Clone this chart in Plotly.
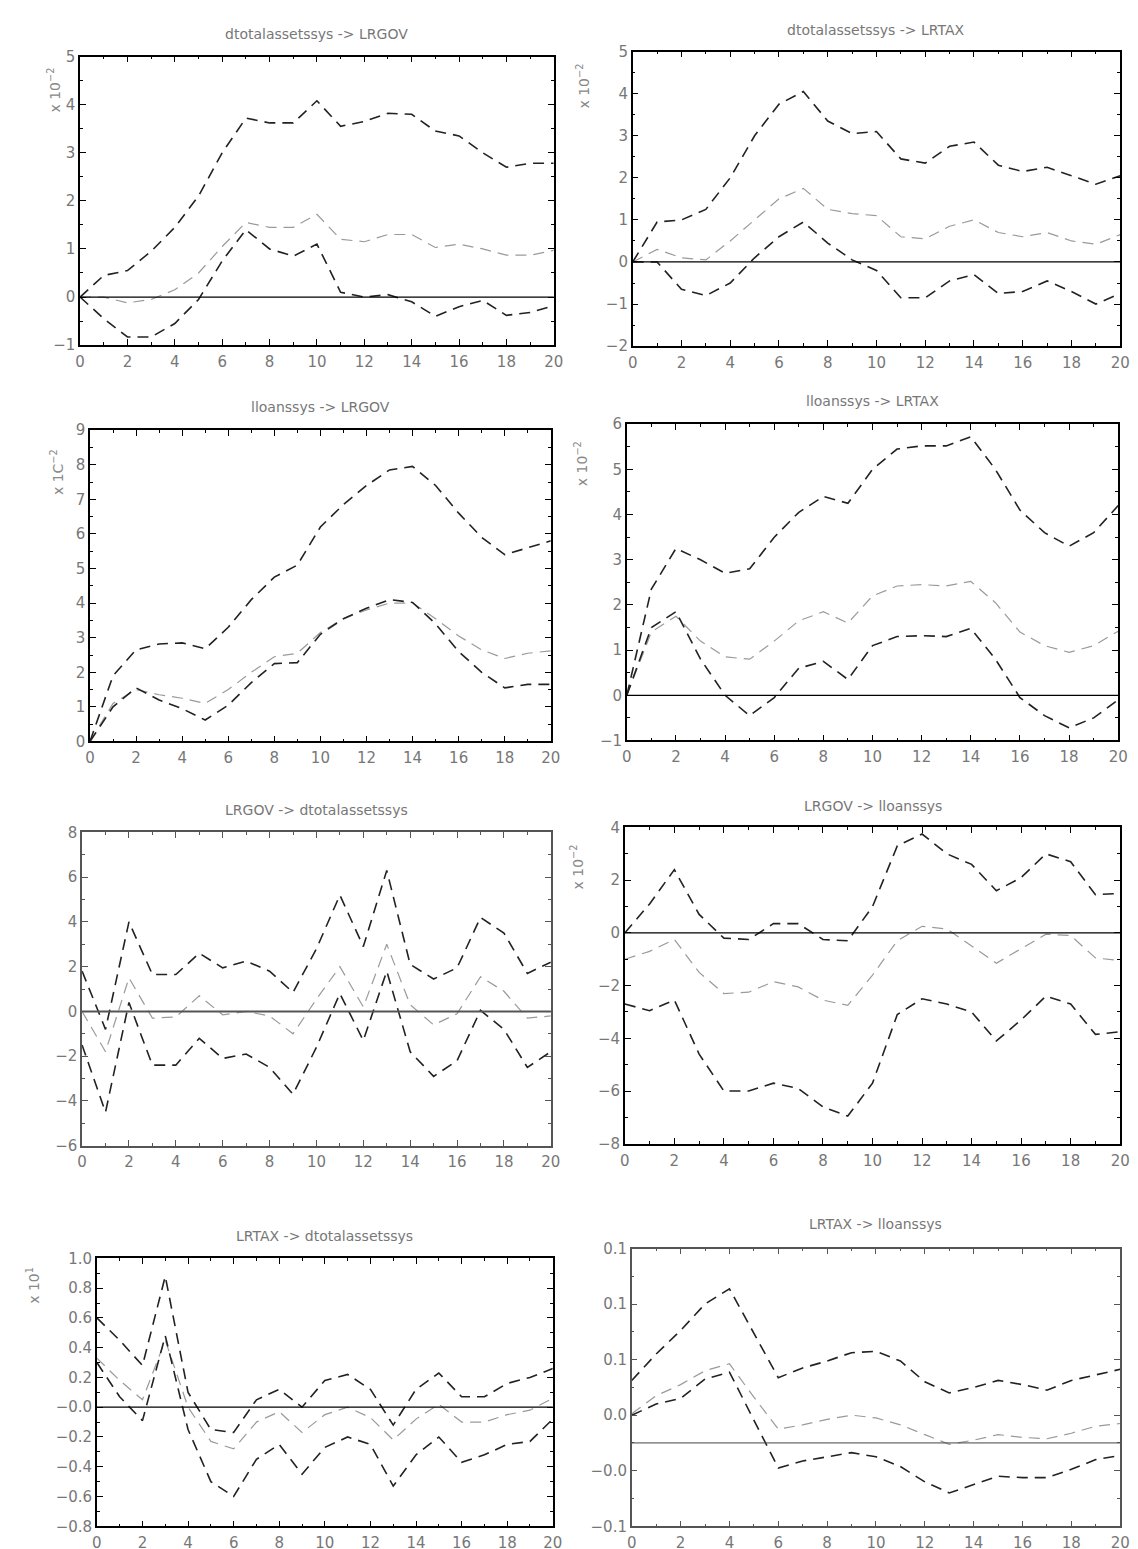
import plotly.graph_objects as go

W, H = 1138, 1549

horizon = list(range(21))

# dtotalassetssys -> LRGOV  (x 10^-2)
dta_gov_hi = [0.0, 0.45, 0.55, 0.95, 1.45, 2.1, 3.0, 3.72, 3.62, 3.62, 4.08, 3.55, 3.65, 3.82, 3.8, 3.45, 3.35, 3.0, 2.7, 2.78, 2.78]
dta_gov_mid = [0.0, 0.0, -0.12, -0.05, 0.15, 0.5, 1.05, 1.55, 1.45, 1.45, 1.72, 1.2, 1.15, 1.3, 1.3, 1.03, 1.1, 1.0, 0.87, 0.87, 0.97]
dta_gov_lo = [0.0, -0.45, -0.83, -0.83, -0.55, -0.05, 0.75, 1.4, 1.0, 0.85, 1.1, 0.1, 0.0, 0.05, -0.1, -0.4, -0.2, -0.07, -0.38, -0.32, -0.18]

# dtotalassetssys -> LRTAX  (x 10^-2)
dta_tax_hi = [0.0, 0.95, 1.0, 1.25, 2.0, 3.0, 3.75, 4.05, 3.35, 3.05, 3.1, 2.45, 2.35, 2.75, 2.85, 2.3, 2.15, 2.25, 2.05, 1.85, 2.05]
dta_tax_mid = [0.0, 0.3, 0.1, 0.05, 0.5, 1.0, 1.5, 1.75, 1.25, 1.15, 1.1, 0.6, 0.55, 0.85, 1.0, 0.7, 0.6, 0.7, 0.5, 0.42, 0.65]
dta_tax_lo = [0.0, 0.0, -0.65, -0.8, -0.5, 0.1, 0.6, 0.95, 0.45, 0.05, -0.2, -0.85, -0.85, -0.45, -0.3, -0.75, -0.7, -0.45, -0.7, -1.0, -0.75]

# lloanssys -> LRGOV  (x 10^-2)
llo_gov_hi = [0.0, 1.9, 2.65, 2.82, 2.85, 2.68, 3.3, 4.1, 4.75, 5.1, 6.2, 6.85, 7.4, 7.85, 7.95, 7.4, 6.6, 5.9, 5.4, 5.6, 5.8]
llo_gov_mid = [0.0, 1.1, 1.5, 1.35, 1.25, 1.1, 1.5, 2.0, 2.45, 2.55, 3.15, 3.55, 3.8, 4.0, 4.0, 3.55, 3.05, 2.65, 2.4, 2.55, 2.62]
llo_gov_lo = [0.0, 1.0, 1.55, 1.2, 0.95, 0.62, 1.05, 1.7, 2.25, 2.28, 3.1, 3.55, 3.85, 4.1, 4.02, 3.4, 2.6, 2.0, 1.55, 1.65, 1.65]

# lloanssys -> LRTAX  (x 10^-2)
llo_tax_hi = [0.0, 2.35, 3.25, 3.0, 2.7, 2.8, 3.5, 4.05, 4.4, 4.25, 5.0, 5.45, 5.52, 5.52, 5.72, 5.0, 4.1, 3.6, 3.3, 3.6, 4.2]
llo_tax_mid = [0.0, 1.4, 1.75, 1.2, 0.85, 0.8, 1.2, 1.65, 1.85, 1.6, 2.2, 2.42, 2.45, 2.42, 2.52, 2.05, 1.4, 1.1, 0.95, 1.1, 1.42]
llo_tax_lo = [0.0, 1.5, 1.85, 0.8, 0.0, -0.45, -0.05, 0.6, 0.75, 0.35, 1.1, 1.3, 1.32, 1.3, 1.48, 0.8, -0.05, -0.45, -0.72, -0.5, -0.1]

# LRGOV -> dtotalassetssys
gov_dta_hi = [1.8, -0.8, 4.0, 1.65, 1.65, 2.6, 1.95, 2.25, 1.8, 0.85, 2.8, 5.2, 2.9, 6.3, 2.1, 1.45, 1.95, 4.2, 3.5, 1.7, 2.2]
gov_dta_mid = [0.0, -1.8, 1.5, -0.3, -0.25, 0.7, -0.15, 0.0, -0.2, -1.0, 0.55, 2.0, 0.2, 3.0, 0.3, -0.6, -0.1, 1.55, 0.9, -0.3, -0.2]
gov_dta_lo = [-1.5, -4.5, 0.4, -2.4, -2.4, -1.2, -2.1, -1.9, -2.5, -3.7, -1.6, 0.8, -1.3, 1.8, -1.8, -2.9, -2.2, 0.05, -0.8, -2.5, -1.8]

# LRGOV -> lloanssys  (x 10^-2)
gov_llo_hi = [0.0, 1.1, 2.4, 0.7, -0.2, -0.25, 0.35, 0.35, -0.25, -0.3, 1.0, 3.3, 3.75, 3.0, 2.6, 1.6, 2.1, 3.0, 2.7, 1.45, 1.5]
gov_llo_mid = [-1.0, -0.7, -0.25, -1.5, -2.3, -2.25, -1.85, -2.05, -2.55, -2.75, -1.6, -0.3, 0.25, 0.15, -0.5, -1.15, -0.6, -0.05, -0.1, -0.95, -1.05]
gov_llo_lo = [-2.7, -2.95, -2.55, -4.6, -6.0, -6.0, -5.7, -5.9, -6.6, -6.95, -5.7, -3.1, -2.5, -2.7, -3.0, -4.1, -3.3, -2.4, -2.7, -3.85, -3.75]

# LRTAX -> dtotalassetssys  (x 10^1)
tax_dta_hi = [0.6, 0.45, 0.28, 0.88, 0.1, -0.15, -0.17, 0.05, 0.12, 0.0, 0.18, 0.22, 0.12, -0.12, 0.12, 0.23, 0.07, 0.07, 0.16, 0.2, 0.26]
tax_dta_mid = [0.33, 0.18, 0.05, 0.45, 0.0, -0.23, -0.28, -0.1, -0.03, -0.17, -0.05, 0.0, -0.07, -0.22, -0.08, 0.02, -0.1, -0.1, -0.05, -0.02, 0.06]
tax_dta_lo = [0.3, 0.07, -0.09, 0.48, -0.15, -0.5, -0.6, -0.35, -0.25, -0.45, -0.27, -0.2, -0.25, -0.53, -0.32, -0.2, -0.37, -0.32, -0.25, -0.23, -0.08]

# LRTAX -> lloanssys
tax_llo_hi = [0.045, 0.064, 0.081, 0.1, 0.111, 0.079, 0.047, 0.054, 0.059, 0.065, 0.066, 0.059, 0.044, 0.036, 0.04, 0.045, 0.042, 0.038, 0.045, 0.049, 0.053]
tax_llo_mid = [0.021, 0.034, 0.042, 0.052, 0.057, 0.033, 0.01, 0.013, 0.017, 0.02, 0.018, 0.013, 0.006, -0.001, 0.002, 0.006, 0.004, 0.003, 0.007, 0.012, 0.014]
tax_llo_lo = [0.02, 0.028, 0.032, 0.046, 0.051, 0.016, -0.018, -0.013, -0.01, -0.007, -0.01, -0.017, -0.028, -0.036, -0.03, -0.024, -0.025, -0.025, -0.019, -0.012, -0.009]

x_ticks = list(range(0, 21, 2))
tax_llo_ticks = [-0.06, -0.02, 0.02, 0.06, 0.10, 0.14]
tax_llo_ticktext = ["\u22120.1", "\u22120.0", "0.0", "0.1", "0.1", "0.1"]
tax_dta_ticks = [-0.8, -0.6, -0.4, -0.2, 0.0, 0.2, 0.4, 0.6, 0.8, 1.0]
tax_dta_ticktext = ["\u22120.8", "\u22120.6", "\u22120.4", "\u22120.2", "\u22120.0", "0.2", "0.4", "0.6", "0.8", "1.0"]

# panel: title, series, box in pixels (x0, x1, y0, y1), y range, y ticks, minor step, exponent label
panels = [
    dict(title="dtotalassetssys -> LRGOV", hi=dta_gov_hi, mid=dta_gov_mid, lo=dta_gov_lo,
         box=(68, 548, 40, 332), yr=(-1, 5), dtick=1, minor=0.5, zero="#000",
         expo="x 10<sup>\u22122</sup>", expo_pos=(42, 74), title_y=17),
    dict(title="dtotalassetssys -> LRTAX", hi=dta_tax_hi, mid=dta_tax_mid, lo=dta_tax_lo,
         box=(628, 1122, 35, 333), yr=(-2, 5), dtick=1, minor=0.5, zero="#000",
         expo="x 10<sup>\u22122</sup>", expo_pos=(578, 70), title_y=13),
    dict(title="lloanssys -> LRGOV", hi=llo_gov_hi, mid=llo_gov_mid, lo=llo_gov_lo,
         box=(78, 545, 418, 733), yr=(0, 9), dtick=1, minor=0.5, zero=None,
         expo="x 1C<sup>\u22122</sup>", expo_pos=(44, 460), title_y=395),
    dict(title="lloanssys -> LRTAX", hi=llo_tax_hi, mid=llo_tax_mid, lo=llo_tax_lo,
         box=(622, 1120, 412, 732), yr=(-1, 6), dtick=1, minor=0.5, zero="#000",
         expo="x 10<sup>\u22122</sup>", expo_pos=(575, 452), title_y=389),
    dict(title="LRGOV -> dtotalassetssys", hi=gov_dta_hi, mid=gov_dta_mid, lo=gov_dta_lo,
         box=(70, 545, 825, 1142), yr=(-6, 8), dtick=2, minor=1, zero="#555",
         expo=None, expo_pos=None, title_y=802, frame="#555", zero_w=2),
    dict(title="LRGOV -> lloanssys", hi=gov_llo_hi, mid=gov_llo_mid, lo=gov_llo_lo,
         box=(620, 1122, 820, 1140), yr=(-8, 4), dtick=2, minor=1, zero="#000",
         expo="x 10<sup>\u22122</sup>", expo_pos=(572, 860), title_y=798),
    dict(title="LRTAX -> dtotalassetssys", hi=tax_dta_hi, mid=tax_dta_mid, lo=tax_dta_lo,
         box=(85, 547, 1256, 1527), yr=(-0.8, 1.0), tickvals=tax_dta_ticks, ticktext=tax_dta_ticktext,
         minor=0.1, zero="#000", expo="x 10<sup>1</sup>", expo_pos=(20, 1283), title_y=1233),
    dict(title="LRTAX -> lloanssys", hi=tax_llo_hi, mid=tax_llo_mid, lo=tax_llo_lo,
         box=(627, 1122, 1246, 1527), yr=(-0.06, 0.14), tickvals=tax_llo_ticks, ticktext=tax_llo_ticktext,
         minor=0.02, zero="#444", expo=None, expo_pos=None, title_y=1221, frame="#555", zero_w=1),
]

label_font = dict(family="DejaVu Sans", size=15, color="#777")
title_font = dict(family="DejaVu Sans", size=14, color="#777")
expo_font = dict(family="DejaVu Sans", size=14, color="#888")

fig = go.Figure()
layout = dict(width=W, height=H, margin=dict(l=0, r=0, t=0, b=0),
              paper_bgcolor="white", plot_bgcolor="white", showlegend=False)
annotations = []
shapes = []

for i, p in enumerate(panels, start=1):
    xa = "x" if i == 1 else f"x{i}"
    ya = "y" if i == 1 else f"y{i}"
    x0, x1, y0, y1 = p["box"]
    frame = p.get("frame", "#000")

    for key, color, width in (("mid", "#9a9a9a", 1.2), ("hi", "#222", 1.6), ("lo", "#222", 1.6)):
        fig.add_trace(go.Scatter(x=horizon, y=p[key], mode="lines", xaxis=xa, yaxis=ya,
                                 line=dict(color=color, width=width, dash="11px,7px"),
                                 hoverinfo="skip"))

    xaxis = dict(domain=[x0 / W, x1 / W], anchor=ya, range=[0, 20], tickvals=x_ticks,
                 ticks="inside", ticklen=6, tickcolor=frame, showgrid=False, zeroline=False,
                 showline=True, linecolor=frame, linewidth=1.5, mirror="ticks",
                 minor=dict(ticks="inside", dtick=1, ticklen=3, tickcolor=frame),
                 tickfont=label_font, ticklabelstandoff=2)
    yaxis = dict(domain=[1 - y1 / H, 1 - y0 / H], anchor=xa, range=list(p["yr"]),
                 ticks="inside", ticklen=6, tickcolor=frame, showgrid=False, zeroline=False,
                 showline=True, linecolor=frame, linewidth=1.5, mirror="ticks",
                 minor=dict(ticks="inside", dtick=p["minor"], ticklen=3, tickcolor=frame),
                 tickfont=label_font)
    if "tickvals" in p:
        yaxis["tickvals"] = p["tickvals"]
        yaxis["ticktext"] = p["ticktext"]
        yaxis["minor"]["tick0"] = p["yr"][0]
    else:
        yaxis["dtick"] = p["dtick"]
    layout["xaxis" if i == 1 else f"xaxis{i}"] = xaxis
    layout["yaxis" if i == 1 else f"yaxis{i}"] = yaxis

    if p["zero"]:
        shapes.append(dict(type="line", xref=f"{xa} domain", yref=ya, x0=0, x1=1, y0=0, y1=0,
                           line=dict(color=p["zero"], width=p.get("zero_w", 1.3))))

    annotations.append(dict(text=p["title"], xref="paper", yref="paper",
                            x=(x0 + x1) / 2 / W, y=1 - p["title_y"] / H, showarrow=False,
                            font=title_font, xanchor="center", yanchor="middle"))
    if p["expo"]:
        ex, ey = p["expo_pos"]
        annotations.append(dict(text=p["expo"], xref="paper", yref="paper", x=ex / W, y=1 - ey / H,
                                showarrow=False, textangle=-90, font=expo_font,
                                xanchor="center", yanchor="middle"))

layout["annotations"] = annotations
layout["shapes"] = shapes
fig.update_layout(**layout)

fig.write_html("out.html")
